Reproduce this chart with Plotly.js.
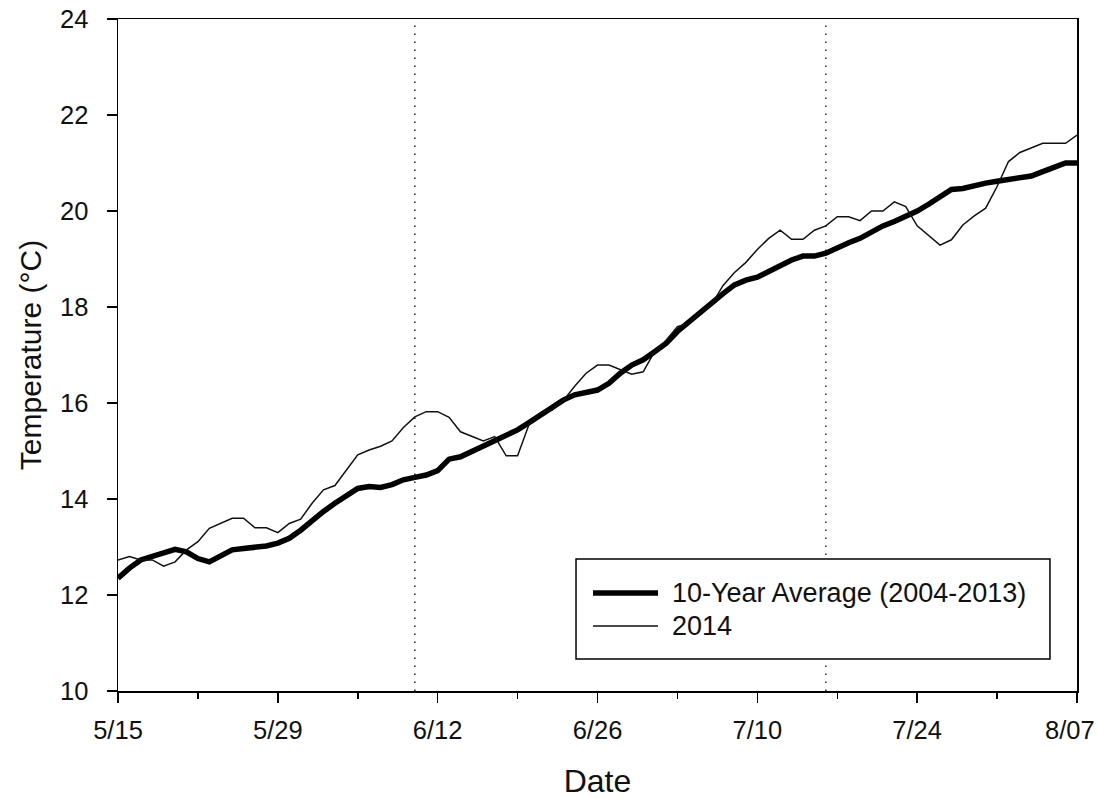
<!DOCTYPE html>
<html>
<head>
<meta charset="utf-8">
<script src="https://cdn.plot.ly/plotly-3.0.1.min.js"></script>
<style>html,body{margin:0;padding:0;background:#fff;}#chart{width:1097px;height:799px;}</style>
</head>
<body>
<div id="chart"></div>
<script>
// Daily series from 2014-05-15 to 2014-08-07
const startDate = '2014-05-15';
const avgTemps = [12.35,12.56,12.73,12.80,12.88,12.95,12.90,12.76,12.69,12.80,
  12.94,12.97,12.99,13.02,13.08,13.18,13.35,13.56,13.74,13.91,
  14.05,14.22,14.26,14.24,14.30,14.40,14.45,14.50,14.59,14.83,
  14.88,14.99,15.08,15.19,15.30,15.44,15.59,15.75,15.89,16.06,
  16.17,16.21,16.27,16.41,16.62,16.79,16.90,17.07,17.24,17.49,
  17.69,17.90,18.08,18.28,18.46,18.56,18.62,18.75,18.87,18.98,
  19.06,19.06,19.12,19.24,19.34,19.43,19.57,19.69,19.78,19.88,
  20.00,20.14,20.28,20.45,20.47,20.53,20.58,20.62,20.66,20.70,
  20.73,20.82,20.91,21.00,21.00];
const temps2014 = [12.73,12.80,12.73,12.73,12.60,12.69,12.94,13.11,13.39,13.49,
  13.60,13.60,13.40,13.40,13.30,13.49,13.58,13.91,14.19,14.28,
  14.60,14.92,15.02,15.10,15.21,15.49,15.71,15.82,15.82,15.70,
  15.40,15.31,15.21,15.30,14.90,14.90,15.55,15.80,15.85,16.05,
  16.35,16.62,16.79,16.79,16.69,16.60,16.65,17.07,17.30,17.59,
  17.66,17.88,18.05,18.45,18.72,18.93,19.20,19.43,19.60,19.41,
  19.41,19.60,19.69,19.88,19.88,19.80,20.00,20.00,20.19,20.09,
  19.69,19.50,19.29,19.40,19.71,19.90,20.06,20.51,21.03,21.22,
  21.31,21.41,21.41,21.41,21.58];
const markerDates = ['2014-06-10', '2014-07-16'];
const seriesNames = ['10-Year Average (2004-2013)', '2014'];
const xTickVals = ['2014-05-15', '2014-05-29', '2014-06-12', '2014-06-26', '2014-07-10', '2014-07-24', '2014-08-07'];
const xTickLabels = ['5/15', '5/29', '6/12', '6/26', '7/10', '7/24', '8/07'];
const xRange = ['2014-05-15', '2014-08-07'];
const yTicks = [10, 12, 14, 16, 18, 20, 22, 24];

const DAY = 86400000;
function dateList(start, n) {
  const out = [];
  const t0 = Date.parse(start + 'T00:00:00Z');
  for (let i = 0; i < n; i++) {
    out.push(new Date(t0 + i * DAY).toISOString().slice(0, 10));
  }
  return out;
}
const dates = dateList(startDate, avgTemps.length);

const FONT = 'Liberation Sans, Arial, sans-serif';

const traces = [
  {x: dates, y: avgTemps, type: 'scatter', mode: 'lines', name: seriesNames[0],
   line: {color: '#000', width: 5.5}, showlegend: false},
  {x: dates, y: temps2014, type: 'scatter', mode: 'lines', name: seriesNames[1],
   line: {color: '#111', width: 1.5}, showlegend: false}
];

const shapes = markerDates.map(d => ({
  type: 'line', xref: 'x', yref: 'paper', x0: d, x1: d, y0: 0, y1: 1,
  line: {color: '#333', width: 1.6, dash: '1.6px,6.4px'}, layer: 'below'
}));
// legend box
const LB = {x0: 0.4776, x1: 0.9718, y0: 0.0476, y1: 0.1964};
shapes.push({type: 'rect', xref: 'paper', yref: 'paper', x0: LB.x0, x1: LB.x1, y0: LB.y0, y1: LB.y1,
  line: {color: '#000', width: 1.5}, fillcolor: '#fff', layer: 'above'});
shapes.push({type: 'line', xref: 'paper', yref: 'paper', x0: 0.4953, x1: 0.5631, y0: 0.1458, y1: 0.1458,
  line: {color: '#000', width: 5.5}});
shapes.push({type: 'line', xref: 'paper', yref: 'paper', x0: 0.4953, x1: 0.5631, y0: 0.0967, y1: 0.0967,
  line: {color: '#111', width: 1.5}});

const TICKSIZE = 25.5;
const lastIdx = xTickLabels.length - 1;
const annotations = [
  {xref: 'paper', yref: 'paper', x: 0.5760, y: 0.1458, xanchor: 'left', yanchor: 'middle',
   text: seriesNames[0], showarrow: false, font: {family: FONT, size: 27, color: '#111'}},
  {xref: 'paper', yref: 'paper', x: 0.5760, y: 0.0967, xanchor: 'left', yanchor: 'middle',
   text: seriesNames[1], showarrow: false, font: {family: FONT, size: 27, color: '#111'}},
  // last x tick label, kept inside the page edge
  {xref: 'x', yref: 'paper', x: xTickVals[lastIdx], y: 0, xanchor: 'right', yanchor: 'top',
   xshift: 20, yshift: -23, text: xTickLabels[lastIdx], showarrow: false,
   font: {family: FONT, size: TICKSIZE, color: '#111'}}
];

const layout = {
  width: 1097, height: 799,
  margin: {l: 118, r: 20, t: 19, b: 108},
  paper_bgcolor: '#fff', plot_bgcolor: '#fff',
  font: {family: FONT, color: '#111'},
  showlegend: false,
  xaxis: {
    type: 'date', range: xRange,
    tickmode: 'array', tickvals: xTickVals,
    ticktext: xTickLabels.map((t, i) => i === lastIdx ? ' ' : t),
    ticks: 'outside', ticklen: 10, tickwidth: 1.5, tickcolor: '#000',
    ticklabelstandoff: 6,
    minor: {dtick: 7 * DAY, tick0: xRange[0], ticks: 'outside', ticklen: 6, tickwidth: 1.5, tickcolor: '#000', showgrid: false},
    showline: true, linecolor: '#000', linewidth: 1.5, mirror: true,
    showgrid: false, zeroline: false,
    tickfont: {family: FONT, size: TICKSIZE, color: '#111'},
    title: {text: 'Date', font: {family: FONT, size: 32, color: '#111'}, standoff: 30}
  },
  yaxis: {
    range: [10, 24], tickvals: yTicks,
    ticks: 'outside', ticklen: 10, tickwidth: 1.5, tickcolor: '#000',
    ticklabelstandoff: 13,
    showline: true, linecolor: '#000', linewidth: 1.5, mirror: true,
    showgrid: false, zeroline: false,
    tickfont: {family: FONT, size: TICKSIZE, color: '#111'},
    title: {text: 'Temperature (°C)', font: {family: FONT, size: 30, color: '#111'}, standoff: 9}
  },
  shapes: shapes,
  annotations: annotations
};

Plotly.newPlot('chart', traces, layout, {displayModeBar: false, staticPlot: true});
</script>
</body>
</html>
